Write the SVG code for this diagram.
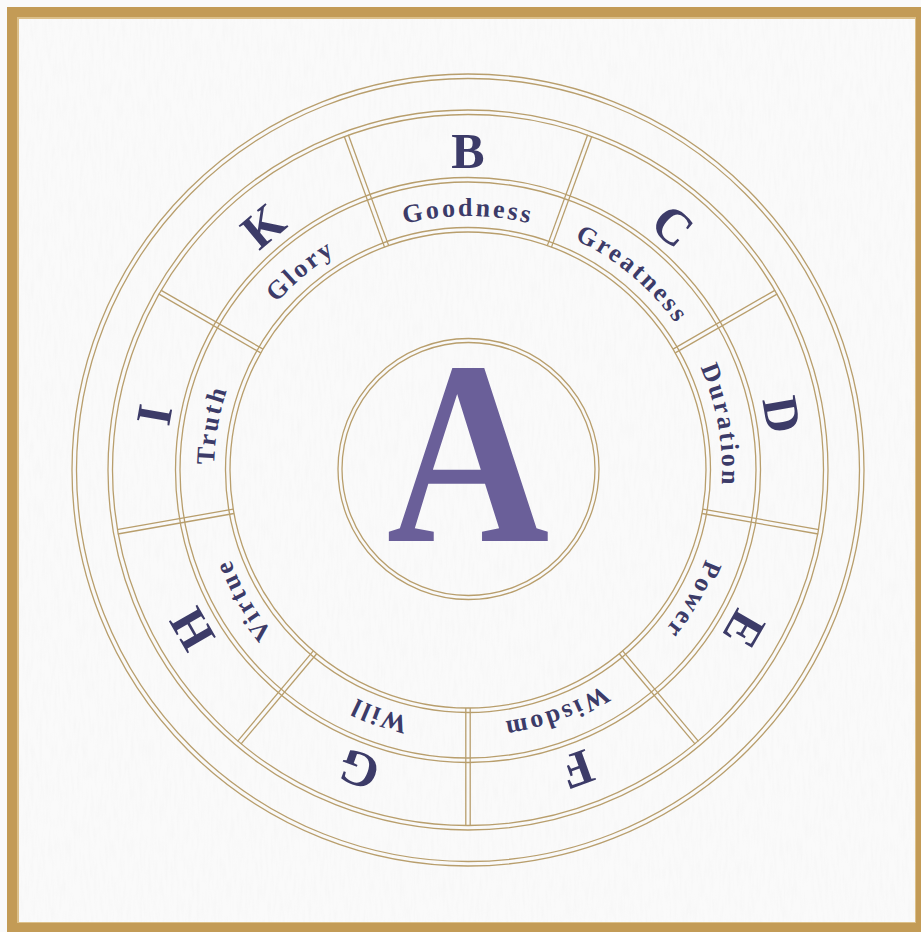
<svg xmlns="http://www.w3.org/2000/svg" xmlns:xlink="http://www.w3.org/1999/xlink" width="921" height="932" viewBox="0 0 921 932">
  <style>
    .ring { fill: none; stroke: #b89e6c; stroke-width: 1.3; }
    .div { stroke: #b89e6c; stroke-width: 1.3; }
    .letter { font-family: "Liberation Serif", "DejaVu Serif", serif; font-weight: bold; font-size: 50px; fill: #3c3b68; text-anchor: middle; }
    .word { font-family: "Liberation Serif", "DejaVu Serif", serif; font-weight: bold; font-size: 26px; letter-spacing: 2.7px; fill: #3c3b68; }
    .big { font-family: "Liberation Serif", "DejaVu Serif", serif; font-weight: bold; font-size: 262px; fill: #6a5f99; text-anchor: middle; }
  </style>
  <defs>
    <path id="wordArc" d="M 214,470 A 254 254 0 0 1 722,470"/>
    <g id="divider">
      <line x1="465.8" y1="114" x2="465.8" y2="232" class="div"/>
      <line x1="470.2" y1="114" x2="470.2" y2="232" class="div"/>
    </g>
    <filter id="paper" x="0" y="0" width="100%" height="100%">
      <feTurbulence type="fractalNoise" baseFrequency="0.35 0.05" numOctaves="2" seed="3" result="n"/>
      <feColorMatrix in="n" type="matrix" values="0 0 0 0 0.55  0 0 0 0 0.55  0 0 0 0 0.55  0 0 0 -0.9 0.55"/>
    </filter>
  </defs>

  <!-- frame and paper -->
  <rect x="0" y="0" width="921" height="932" fill="#fafafa"/>
  <rect x="7" y="7" width="914" height="925" fill="#c39b56"/>
  <rect x="18" y="18" width="897" height="904" fill="none" stroke="#dcc08a" stroke-width="2"/>
  <rect x="19" y="19" width="896" height="903" fill="#fafafa"/>
  <g opacity="0.12">
    <rect x="19" y="19" width="896" height="903" filter="url(#paper)" transform="rotate(0)"/>
  </g>

  <!-- rings -->
  <g id="rings">
    <circle cx="468" cy="470" r="396" class="ring"/>
    <circle cx="468" cy="470" r="391.5" class="ring"/>
    <circle cx="468" cy="470" r="360" class="ring"/>
    <circle cx="468" cy="470" r="355.5" class="ring"/>
    <circle cx="468" cy="470" r="292.5" class="ring"/>
    <circle cx="468" cy="470" r="288" class="ring"/>
    <circle cx="468" cy="470" r="242.5" class="ring"/>
    <circle cx="468" cy="470" r="238" class="ring"/>
    <circle cx="468.5" cy="469" r="130.5" class="ring"/>
    <circle cx="468.5" cy="469" r="126.5" class="ring"/>
  </g>

  <!-- dividers between sectors -->
  <g id="connectors">
    <use xlink:href="#divider" transform="rotate(20 468 470)"/>
    <use xlink:href="#divider" transform="rotate(60 468 470)"/>
    <use xlink:href="#divider" transform="rotate(100 468 470)"/>
    <use xlink:href="#divider" transform="rotate(140 468 470)"/>
    <use xlink:href="#divider" transform="rotate(180 468 470)"/>
    <use xlink:href="#divider" transform="rotate(220 468 470)"/>
    <use xlink:href="#divider" transform="rotate(260 468 470)"/>
    <use xlink:href="#divider" transform="rotate(300 468 470)"/>
    <use xlink:href="#divider" transform="rotate(340 468 470)"/>
  </g>

  <!-- center -->
  <g id="node-A">
    <text class="big" transform="translate(468 541) scale(0.86 1)" x="0" y="0">A</text>
  </g>

  <g id="node-B" transform="rotate(0 468 470)">
    <text class="letter" x="468" y="168">B</text>
    <text class="word"><textPath xlink:href="#wordArc" startOffset="50%" text-anchor="middle">Goodness</textPath></text>
  </g>
  <g id="node-C" transform="rotate(40 468 470)">
    <text class="letter" x="468" y="168">C</text>
    <text class="word"><textPath xlink:href="#wordArc" startOffset="50%" text-anchor="middle">Greatness</textPath></text>
  </g>
  <g id="node-D" transform="rotate(80 468 470)">
    <text class="letter" x="468" y="168">D</text>
    <text class="word"><textPath xlink:href="#wordArc" startOffset="50%" text-anchor="middle">Duration</textPath></text>
  </g>
  <g id="node-E" transform="rotate(120 468 470)">
    <text class="letter" x="468" y="168">E</text>
    <text class="word"><textPath xlink:href="#wordArc" startOffset="50%" text-anchor="middle">Power</textPath></text>
  </g>
  <g id="node-F" transform="rotate(160 468 470)">
    <text class="letter" x="468" y="168">F</text>
    <text class="word"><textPath xlink:href="#wordArc" startOffset="50%" text-anchor="middle">Wisdom</textPath></text>
  </g>
  <g id="node-G" transform="rotate(200 468 470)">
    <text class="letter" x="468" y="168">G</text>
    <text class="word"><textPath xlink:href="#wordArc" startOffset="50%" text-anchor="middle">Will</textPath></text>
  </g>
  <g id="node-H" transform="rotate(240 468 470)">
    <text class="letter" x="468" y="168">H</text>
    <text class="word"><textPath xlink:href="#wordArc" startOffset="50%" text-anchor="middle">Virtue</textPath></text>
  </g>
  <g id="node-I" transform="rotate(280 468 470)">
    <text class="letter" x="468" y="168">I</text>
    <text class="word"><textPath xlink:href="#wordArc" startOffset="50%" text-anchor="middle">Truth</textPath></text>
  </g>
  <g id="node-K" transform="rotate(320 468 470)">
    <text class="letter" x="468" y="168">K</text>
    <text class="word"><textPath xlink:href="#wordArc" startOffset="50%" text-anchor="middle">Glory</textPath></text>
  </g>
</svg>
